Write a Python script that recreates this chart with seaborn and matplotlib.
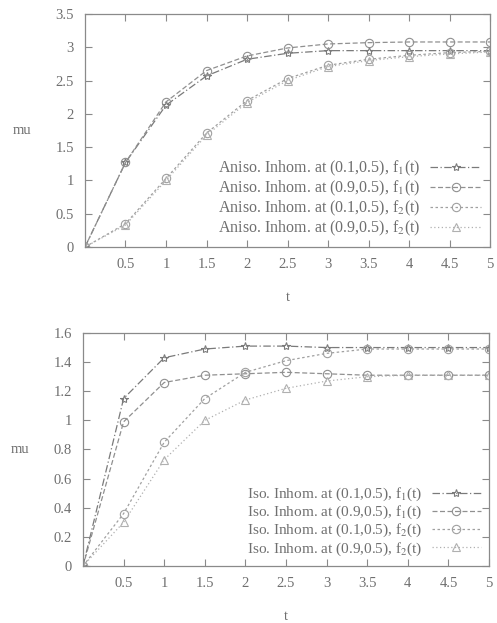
import numpy as np
import pandas as pd
import matplotlib
matplotlib.use("Agg")
import matplotlib.pyplot as plt
import seaborn as sns

# time points
t = [0, 0.5, 1, 1.5, 2, 2.5, 3, 3.5, 4, 4.5, 5]

# top panel: anisotropic inhomogeneous
aniso_f1_01 = [0, 1.27, 2.13, 2.57, 2.82, 2.91, 2.95, 2.95, 2.95, 2.95, 2.95]
aniso_f1_09 = [0, 1.27, 2.18, 2.65, 2.87, 2.99, 3.05, 3.07, 3.08, 3.08, 3.08]
aniso_f2_01 = [0, 0.35, 1.03, 1.71, 2.2, 2.53, 2.73, 2.82, 2.88, 2.92, 2.94]
aniso_f2_09 = [0, 0.33, 1.0, 1.68, 2.17, 2.5, 2.71, 2.8, 2.86, 2.9, 2.93]

# bottom panel: isotropic inhomogeneous
iso_f1_01 = [0, 1.15, 1.43, 1.49, 1.51, 1.51, 1.5, 1.5, 1.5, 1.5, 1.5]
iso_f1_09 = [0, 0.99, 1.26, 1.31, 1.32, 1.33, 1.32, 1.31, 1.31, 1.31, 1.31]
iso_f2_01 = [0, 0.36, 0.85, 1.15, 1.33, 1.41, 1.46, 1.49, 1.49, 1.49, 1.49]
iso_f2_09 = [0, 0.3, 0.73, 1.0, 1.14, 1.22, 1.27, 1.3, 1.31, 1.31, 1.31]

top_labels = ["Aniso. Inhom. at (0.1,0.5), f$_1$(t)",
              "Aniso. Inhom. at (0.9,0.5), f$_1$(t)",
              "Aniso. Inhom. at (0.1,0.5), f$_2$(t)",
              "Aniso. Inhom. at (0.9,0.5), f$_2$(t)"]
bot_labels = ["Iso. Inhom. at (0.1,0.5), f$_1$(t)",
              "Iso. Inhom. at (0.9,0.5), f$_1$(t)",
              "Iso. Inhom. at (0.1,0.5), f$_2$(t)",
              "Iso. Inhom. at (0.9,0.5), f$_2$(t)"]

sns.set_style("ticks")
plt.rcParams["font.family"] = ["Liberation Serif", "DejaVu Serif"]
plt.rcParams["mathtext.fontset"] = "stix"

txt = "#6f6f6f"
frame = "#8a8a8a"
line_cols = ["#7a7a7a", "#909090", "#a0a0a0", "#b0b0b0"]
markers = ["*", "o", "o", "^"]
dash_list = [(6, 2, 1, 2), (4, 2), (2, 2), (1, 2)]


def long_frame(series, labels):
    rows = []
    for vals, lab in zip(series, labels):
        for ti, v in zip(t, vals):
            rows.append({"t": ti, "mu": v, "series": lab})
    return pd.DataFrame(rows)


def draw(ax, df, labels, yticks, ylabels, ymax, fs):
    pal = dict(zip(labels, line_cols))
    sns.lineplot(data=df, x="t", y="mu", hue="series", style="series",
                 palette=pal, markers=dict(zip(labels, markers)),
                 dashes=dict(zip(labels, dash_list)), ax=ax,
                 linewidth=0.9, markersize=6, markerfacecolor="none",
                 markeredgewidth=0.8, legend=False)
    handles = ax.lines[:4]
    for ln, c in zip(handles, line_cols):
        ln.set_markeredgecolor(c)
        ln.set_markerfacecolor("none")
    ax.set_xlim(0, 5)
    ax.set_ylim(0, ymax)
    ax.set_xticks([0.5, 1, 1.5, 2, 2.5, 3, 3.5, 4, 4.5, 5])
    ax.set_xticklabels(["0.5", "1", "1.5", "2", "2.5", "3", "3.5", "4", "4.5", "5"])
    ax.set_yticks(yticks)
    ax.set_yticklabels(ylabels)
    ax.tick_params(direction="in", length=5, width=0.8, colors=frame,
                   labelcolor=txt, labelsize=10.5, top=True, right=True, pad=8)
    for sp in ax.spines.values():
        sp.set_color(frame)
        sp.set_linewidth(0.9)
    ax.set_xlabel("t", color=txt, fontsize=10.5, labelpad=14)
    ax.set_ylabel("mu", color=txt, fontsize=10.5, rotation=0, labelpad=24, va="center")
    leg = ax.legend(handles, labels, loc="lower right", frameon=False,
                    markerfirst=False, fontsize=fs, handlelength=3.2,
                    labelspacing=0.05, borderaxespad=0.15, handletextpad=0.6)
    for tx in leg.get_texts():
        tx.set_color(txt)


fig = plt.figure(figsize=(4.97, 6.23), dpi=100)
ax1 = fig.add_axes([0.171, 0.6035, 0.815, 0.374])
ax2 = fig.add_axes([0.167, 0.0915, 0.817, 0.374])

df_top = long_frame([aniso_f1_01, aniso_f1_09, aniso_f2_01, aniso_f2_09], top_labels)
df_bot = long_frame([iso_f1_01, iso_f1_09, iso_f2_01, iso_f2_09], bot_labels)

draw(ax1, df_top, top_labels, [0, 0.5, 1, 1.5, 2, 2.5, 3, 3.5],
     ["0", "0.5", "1", "1.5", "2", "2.5", "3", "3.5"], 3.5, 11.5)
draw(ax2, df_bot, bot_labels, [0, 0.2, 0.4, 0.6, 0.8, 1, 1.2, 1.4, 1.6],
     ["0", "0.2", "0.4", "0.6", "0.8", "1", "1.2", "1.4", "1.6"], 1.6, 11)

fig.savefig("out.png", dpi=100, facecolor="white")
